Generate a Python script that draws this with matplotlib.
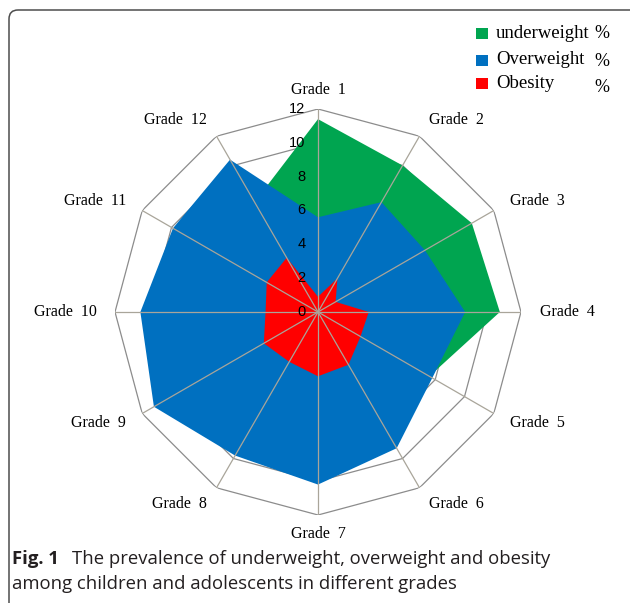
import numpy as np
import matplotlib
matplotlib.use("Agg")
import matplotlib.pyplot as plt
from matplotlib.patches import FancyBboxPatch, Rectangle

grades = ["Grade  %d" % i for i in range(1, 13)]
underweight = [11.4, 10.0, 10.5, 10.75, 7.6, 6.0, 5.0, 5.0, 5.0, 5.5, 6.5, 7.5]
overweight = [5.6, 7.5, 7.3, 8.7, 7.8, 9.3, 10.2, 9.8, 11.2, 10.5, 9.9, 10.4]
obesity = [0.9, 2.3, 1.2, 3.0, 2.9, 3.6, 3.8, 3.4, 3.7, 3.1, 3.5, 3.7]
rticks = [0, 2, 4, 6, 8, 10, 12]

series_names = ["underweight", "Overweight", "Obesity"]
colors = ["#00A550", "#0070C0", "#FF0000"]

W, H = 630, 603
fig = plt.figure(figsize=(W / 100, H / 100), dpi=100)

# background axes in pixel units for frame, legend, caption
bg = fig.add_axes([0, 0, 1, 1])
bg.set_xlim(0, W)
bg.set_ylim(H, 0)
bg.axis("off")
bg.add_patch(FancyBboxPatch((9, 10), 640, 620, boxstyle="round,pad=0,rounding_size=9",
                            fc="white", ec="#4d4d4d", lw=1.1))

# radar axes
cx, cy, rad = 318, 312, 203
ax = fig.add_axes([(cx - rad) / W, 1 - (cy + rad) / H, 2 * rad / W, 2 * rad / H],
                  projection="polar")
ax.set_theta_offset(np.pi / 2)
ax.set_theta_direction(-1)
ax.set_ylim(0, 12)
ax.patch.set_alpha(0)
ax.spines["polar"].set_visible(False)
ax.grid(False)
ax.set_xticks([])
ax.set_yticks([])

n = len(grades)
ang = np.linspace(0, 2 * np.pi, n, endpoint=False)
ang_c = np.append(ang, ang[0])

for r in rticks[1:]:
    ax.plot(ang_c, [r] * (n + 1), color="#8c8c8c", lw=0.9, zorder=1)

for vals, col, z in zip([underweight, overweight, obesity], colors, [2, 3, 4]):
    ax.fill(ang_c, vals + vals[:1], color=col, lw=0, zorder=z)

for a in ang:
    ax.plot([a, a], [0, 12], color="#a9a59a", lw=0.9, zorder=5)

for r in rticks:
    ax.annotate(str(r), xy=(0, r), xytext=(-9, 0), textcoords="offset points",
                ha="right", va="center", fontsize=10.5, family="Liberation Sans",
                color="black", zorder=6)

for a, lab in zip(ang, grades):
    s = np.sin(a)
    if abs(s) < 1e-6:
        ha = "center"
    elif s > 0:
        ha = "left"
    else:
        ha = "right"
    ax.text(a, 13.1, lab, ha=ha, va="center", fontsize=11.5,
            family="Liberation Serif", color="black")

# legend
rows_y = [33, 60, 83]
pct_y = [34, 61, 87]
for name, col, y, py in zip(series_names, colors, rows_y, pct_y):
    bg.add_patch(Rectangle((476, y - 5.5), 12, 11, fc=col, ec="none"))
    bg.text(496, y, name, ha="left", va="center", fontsize=13.5,
            family="Liberation Serif", color="black")
    bg.text(602, py, "%", ha="center", va="center", fontsize=13,
            family="Liberation Serif", color="black")

# caption
cap_kw = dict(ha="left", va="center", fontsize=13.3, family="Open Sans", color="#231f20")
bg.text(12, 559, "Fig. 1", fontweight="bold", **cap_kw)
bg.text(72, 559, "The prevalence of underweight, overweight and obesity", **cap_kw)
bg.text(12, 584, "among children and adolescents in different grades", **cap_kw)

fig.savefig("out.png", dpi=100)
